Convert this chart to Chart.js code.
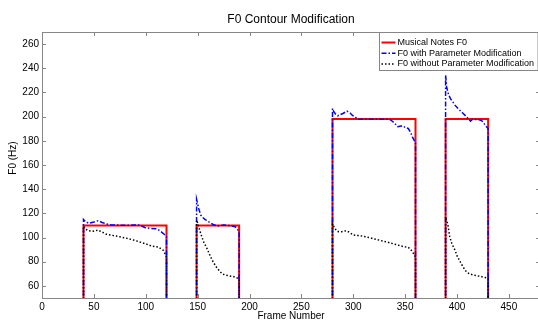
<!DOCTYPE html>
<html>
<head>
<meta charset="utf-8">
<script src="https://cdn.jsdelivr.net/npm/chart.js@4.4.1/dist/chart.umd.min.js"></script>
<style>
  html, body { margin: 0; padding: 0; background: #fff; overflow: hidden; }
  #wrap { width: 540px; height: 320px; }
</style>
</head>
<body>
<div id="wrap"><canvas id="f0Contour"></canvas></div>
<script>
// musical notes (frame range + target F0 in Hz)
var noteStart = [40, 149, 280, 389];
var noteEnd = [120, 190, 360, 430];
var noteF0 = [110, 110, 198, 198];

// F0 with parameter modification, one list per note
var modFrames = [
    [40, 41, 45, 50, 54, 58, 62, 66, 72, 80, 88, 94, 99, 104, 110, 113, 115, 118, 120],
    [149, 150, 151, 153, 155, 157, 160, 162, 165, 169, 172, 175, 179, 183, 186, 188, 190],
    [280, 281, 283, 285, 287, 290, 294, 297, 299, 302, 305, 315, 325, 335, 338, 340, 343, 346, 348, 350, 353, 355, 357, 359, 360],
    [389, 390, 391, 392, 394, 396, 398, 401, 404, 406, 409, 411, 413, 415, 418, 421, 424, 426, 428, 430]
];
var modF0 = [
    [115, 114, 111.7, 112.8, 113.9, 112.5, 111.2, 110.5, 110.3, 110.2, 110.3, 110.3, 108.3, 107.6, 107.2, 106, 104.7, 102.5, 100.6],
    [131.6, 128, 124.1, 118.6, 116.5, 115, 113.5, 112.2, 110.8, 109.5, 110, 110.3, 110, 109.5, 109, 107.6, 103.5],
    [206.8, 204.5, 202, 200.7, 201.5, 202.6, 204.5, 203, 201.2, 199.5, 197.9, 197.9, 197.9, 197.9, 196, 194.4, 191.6, 192.2, 192.4, 191, 190.2, 187.5, 183.3, 180, 178.7],
    [234.3, 224.6, 221, 217.8, 214.5, 212.2, 209.5, 206.8, 204, 202.6, 200, 198.2, 196.2, 197.8, 197.6, 197.5, 196.5, 194.4, 192, 190.2]
];

// F0 without parameter modification
var rawFrames = [
    [40, 42, 45, 50, 54, 58, 62, 68, 75, 82, 88, 94, 100, 106, 112, 117, 120],
    [149, 150, 152, 154, 156, 159, 162, 164, 167, 169, 172, 174, 177, 180, 184, 187, 190],
    [280, 282, 284, 286, 289, 293, 296, 300, 305, 309, 315, 322, 328, 335, 340, 346, 350, 353, 355, 357, 359, 360],
    [389, 390, 391, 393, 395, 398, 400, 403, 406, 409, 412, 416, 420, 424, 427, 430]
];
var rawF0 = [
    [109.5, 107, 105.6, 105.3, 106.1, 104.5, 102.8, 101.8, 100.6, 99.3, 98, 96.4, 94.8, 92.8, 92.2, 89.4, 84],
    [114.5, 112, 106, 100.7, 96, 91, 85, 81.4, 77, 74.5, 71.5, 69.8, 69, 68.4, 67.8, 67.1, 65.7],
    [111.2, 108, 105.6, 104.8, 104.8, 105.6, 104.5, 102.1, 101.6, 101.2, 100, 98.5, 97.2, 95.7, 94.5, 93, 92.3, 91.9, 90.5, 88.3, 85.5, 83.6],
    [117.2, 113.5, 111.7, 100.7, 95, 89.7, 85, 80, 75.5, 71.7, 70, 69, 68.3, 67.6, 67, 66.3]
];

var xTicks = [0, 50, 100, 150, 200, 250, 300, 350, 400, 450];
var yTicks = [60, 80, 100, 120, 140, 160, 180, 200, 220, 240, 260];

// each segment starts and ends at 0 Hz (unvoiced), which drops below the axis
function noteSeries() {
    var pts = [];
    for (var i = 0; i < noteStart.length; i++) {
        pts.push({x: noteStart[i], y: 0}, {x: noteStart[i], y: noteF0[i]},
                 {x: noteEnd[i], y: noteF0[i]}, {x: noteEnd[i], y: 0},
                 {x: noteEnd[i] + 1, y: null});
    }
    return pts;
}
function contourSeries(frames, values) {
    var pts = [];
    for (var i = 0; i < frames.length; i++) {
        var f = frames[i], v = values[i];
        pts.push({x: f[0], y: 0});
        for (var j = 0; j < f.length; j++) pts.push({x: f[j], y: v[j]});
        pts.push({x: f[f.length - 1], y: 0}, {x: f[f.length - 1] + 1, y: null});
    }
    return pts;
}

// matlab style box, inward ticks and legend
var matlabAxes = {
    id: 'matlabAxes',
    afterDraw: function (chart) {
        var ctx = chart.ctx, a = chart.chartArea;
        var xs = chart.scales.x, ys = chart.scales.y;
        ctx.save();
        ctx.strokeStyle = '#868686';
        ctx.lineWidth = 1;
        ctx.beginPath();
        xTicks.forEach(function (v) {
            var px = Math.round(xs.getPixelForValue(v)) + 0.5;
            ctx.moveTo(px, a.bottom); ctx.lineTo(px, a.bottom - 4);
            ctx.moveTo(px, a.top); ctx.lineTo(px, a.top + 4);
        });
        yTicks.forEach(function (v) {
            var py = Math.round(ys.getPixelForValue(v)) + 0.5;
            ctx.moveTo(a.left, py); ctx.lineTo(a.left + 4, py);
            ctx.moveTo(a.right, py); ctx.lineTo(a.right - 4, py);
        });
        ctx.stroke();
        ctx.strokeRect(Math.round(a.left) + 0.5, Math.round(a.top) + 0.5, Math.round(a.width), Math.round(a.height));

        // legend
        var ds = chart.data.datasets;
        ctx.font = '9px "Liberation Sans", Arial, sans-serif';
        var textW = 0;
        ds.forEach(function (d) { textW = Math.max(textW, ctx.measureText(d.label).width); });
        var boxW = textW + 22, boxH = 38;
        var bx = Math.round(a.right - 2 - boxW) + 0.5, by = Math.round(a.top) + 0.5;
        ctx.fillStyle = '#fff';
        ctx.fillRect(bx, by, boxW, boxH);
        ctx.strokeStyle = '#868686';
        ctx.strokeRect(bx, by, boxW, boxH);
        ctx.textBaseline = 'middle';
        ds.forEach(function (d, i) {
            var ry = by + 10 + i * 10.7;
            ctx.beginPath();
            ctx.strokeStyle = d.borderColor;
            ctx.lineWidth = d.borderWidth;
            ctx.setLineDash(d.borderDash || []);
            ctx.moveTo(bx + 2, ry); ctx.lineTo(bx + 16, ry);
            ctx.stroke();
            ctx.setLineDash([]);
            ctx.fillStyle = '#000';
            ctx.fillText(d.label, bx + 18, ry);
        });
        ctx.restore();
    }
};

Chart.defaults.font.family = '"Liberation Sans", Arial, sans-serif';
Chart.defaults.color = '#000';

var ctx = document.getElementById('f0Contour');
var myChart = new Chart(ctx, {
    type: 'line',
    plugins: [matlabAxes],
    data: {
        datasets: [
            {
                label: 'Musical Notes F0',
                data: noteSeries(),
                borderColor: '#ff0000',
                borderWidth: 2,
                order: 3,
            },
            {
                label: 'F0 with Parameter Modification',
                data: contourSeries(modFrames, modF0),
                borderColor: '#0000ff',
                borderWidth: 1.5,
                borderDash: [5, 2, 1.5, 2],
                order: 2,
            },
            {
                label: 'F0 without Parameter Modification',
                data: contourSeries(rawFrames, rawF0),
                borderColor: '#000000',
                borderWidth: 1.5,
                borderDash: [1.5, 2],
                order: 1,
            },
        ]
    },
    options: {
        responsive: true,
        maintainAspectRatio: false,
        animation: false,
        layout: { padding: 0 },
        elements: {
            point: { radius: 0 },
            line: { tension: 0 },
        },
        spanGaps: false,
        plugins: {
            legend: { display: false },
            tooltip: { enabled: false },
        },
        scales: {
            x: {
                type: 'linear',
                position: 'bottom',
                min: 0,
                max: 480,
                afterBuildTicks: function (scale) {
                    scale.ticks = xTicks.map(function (v) { return {value: v}; });
                },
                afterFit: function (scale) { scale.height = 22; },
                grid: { display: false, drawTicks: false },
                border: { display: false },
                ticks: { padding: 3, maxRotation: 0, autoSkip: false, font: { size: 10 } },
                title: {
                    display: true,
                    text: 'Frame Number',
                    font: { size: 10 },
                    padding: { top: 0, bottom: -2.5 },
                },
            },
            x2: {
                type: 'linear',
                position: 'top',
                min: 0,
                max: 480,
                afterFit: function (scale) { scale.height = 32; },
                grid: { display: false, drawTicks: false },
                border: { display: false },
                ticks: { display: false },
                title: {
                    display: true,
                    text: 'F0 Contour Modification',
                    font: { size: 12 },
                    padding: { top: 12, bottom: 0 },
                },
            },
            y: {
                type: 'linear',
                min: 50,
                max: 270,
                afterBuildTicks: function (scale) {
                    scale.ticks = yTicks.map(function (v) { return {value: v}; });
                },
                afterFit: function (scale) { scale.width = 42; },
                grid: { display: false, drawTicks: false },
                border: { display: false },
                ticks: { padding: 3, font: { size: 10 } },
                title: {
                    display: true,
                    text: '     F0 (Hz)',
                    font: { size: 10 },
                    padding: { top: 7, bottom: 0 },
                },
            },
        },
    },
});
</script>
</body>
</html>
